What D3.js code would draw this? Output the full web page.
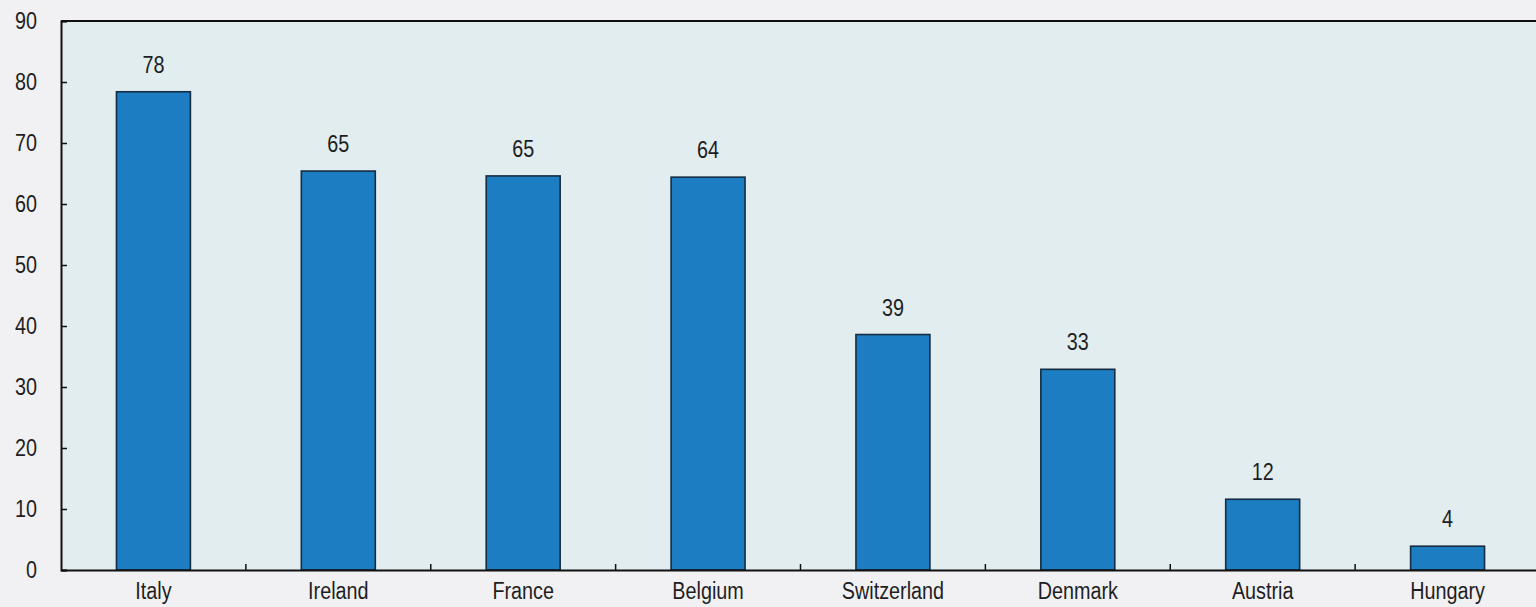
<!DOCTYPE html>
<html>
<head>
<meta charset="utf-8">
<script src="https://cdn.jsdelivr.net/npm/d3@7"></script>
<style>
  html, body { margin: 0; padding: 0; background: #f1f1f3; }
  svg { display: block; }
  text { font-family: "Liberation Sans", Arial, sans-serif; fill: #1e1e1e; }
</style>
</head>
<body>
<svg id="chart" width="1536" height="607"></svg>
<script>
const categories = ["Italy", "Ireland", "France", "Belgium", "Switzerland", "Denmark", "Austria", "Hungary"];
const values = [78.4, 65.4, 64.6, 64.4, 38.6, 32.9, 11.6, 3.9];
const yTicks = [0, 10, 20, 30, 40, 50, 60, 70, 80, 90];

const W = 1536, H = 607;
const margin = { left: 61, right: -4, top: 21, bottom: 37 };
const FS = 23;        // font size
const SX = 0.86;      // horizontal condensing of the text
const svg = d3.select("#chart");

const x = d3.scaleBand()
  .domain(categories)
  .range([margin.left, W - margin.right])
  .paddingInner(0.6)
  .paddingOuter(0.3);

const y = d3.scaleLinear()
  .domain([0, 90])
  .range([H - margin.bottom, margin.top]);

// plot background
svg.append("rect")
  .attr("x", margin.left)
  .attr("y", y(90))
  .attr("width", W - margin.left)
  .attr("height", y(0) - y(90))
  .attr("fill", "#e1edef");

// bars
svg.selectAll("rect.bar")
  .data(values)
  .join("rect")
  .attr("class", "bar")
  .attr("x", (d, i) => x(categories[i]))
  .attr("y", d => y(d))
  .attr("width", x.bandwidth())
  .attr("height", d => y(0) - y(d))
  .attr("fill", "#1c7dc2")
  .attr("stroke", "#152c42")
  .attr("stroke-width", 1.6);

// value labels (condensed)
svg.selectAll("text.val")
  .data(values)
  .join("text")
  .attr("class", "val")
  .attr("transform", (d, i) => `translate(${x(categories[i]) + x.bandwidth() / 2},${y(d) - 19}) scale(${SX},1)`)
  .attr("text-anchor", "middle")
  .attr("font-size", FS)
  .text(d => d3.format(".0f")(d));

// y axis
const yAxis = d3.axisLeft(y).tickValues(yTicks).tickSize(-6).tickPadding(0);
const gy = svg.append("g")
  .attr("transform", `translate(${margin.left},0)`)
  .call(yAxis);
gy.select(".domain").attr("stroke", "#111").attr("stroke-width", 2);
gy.selectAll(".tick line").attr("stroke", "#111").attr("stroke-width", 1.5);
gy.selectAll(".tick text")
  .attr("x", null)
  .attr("transform", `translate(-24,0) scale(${SX},1)`)
  .attr("font-size", FS)
  .attr("font-family", "'Liberation Sans', Arial, sans-serif")
  .attr("fill", "#1e1e1e");

// top border
svg.append("line")
  .attr("x1", margin.left).attr("x2", W)
  .attr("y1", y(90)).attr("y2", y(90))
  .attr("stroke", "#111").attr("stroke-width", 2);

// x axis
const xAxis = d3.axisBottom(x).tickSize(0).tickPadding(0);
const gx = svg.append("g")
  .attr("transform", `translate(0,${y(0)})`)
  .call(xAxis);
gx.select(".domain").attr("stroke", "#111").attr("stroke-width", 2);
gx.selectAll(".tick text")
  .attr("y", null)
  .attr("dy", null)
  .attr("transform", `translate(0,29) scale(${SX},1)`)
  .attr("font-size", FS)
  .attr("font-family", "'Liberation Sans', Arial, sans-serif")
  .attr("fill", "#1e1e1e");

// separator ticks between categories
const boundaries = categories.slice(1).map(c => x(c) - x.step() * x.paddingInner() / 2);
svg.selectAll("line.sep")
  .data(boundaries)
  .join("line")
  .attr("class", "sep")
  .attr("x1", d => d).attr("x2", d => d)
  .attr("y1", y(0)).attr("y2", y(0) - 6)
  .attr("stroke", "#111").attr("stroke-width", 1.5);
</script>
</body>
</html>
